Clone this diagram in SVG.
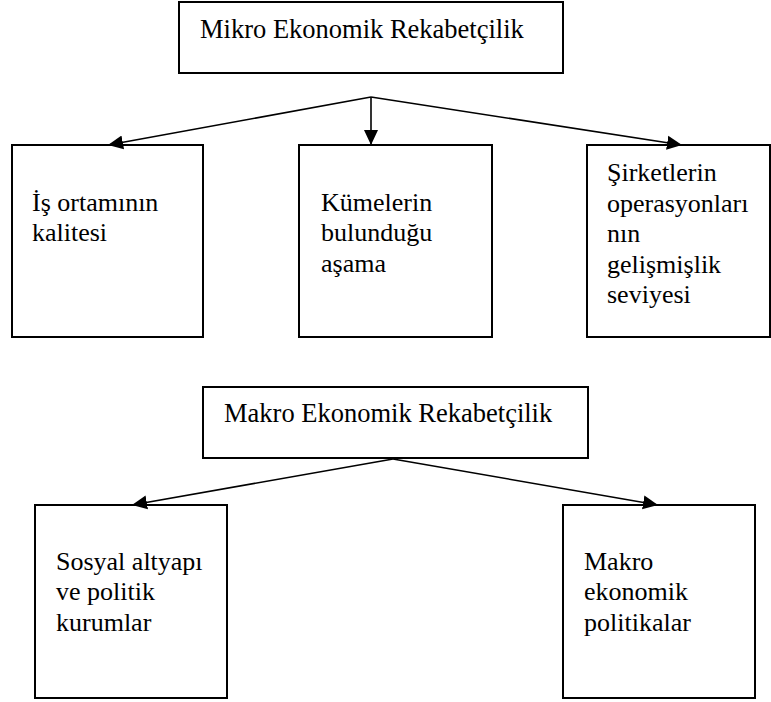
<svg xmlns="http://www.w3.org/2000/svg" width="771" height="702" viewBox="0 0 771 702">
<style>
.box{fill:#fff;stroke:#000;stroke-width:2}
text{font-family:"Liberation Serif","DejaVu Serif",serif;font-size:26px;fill:#000}
.h{font-size:26.5px}
.c{stroke:#000;stroke-width:1.6;fill:none;marker-end:url(#ah)}
</style>
<defs>
<marker id="ah" markerUnits="userSpaceOnUse" markerWidth="16" markerHeight="16" viewBox="0 0 16 16" refX="15" refY="8" orient="auto">
<path d="M0,1 L15,8 L0,15 Z" fill="#000"/>
</marker>
</defs>
<rect width="771" height="702" fill="#fff"/>
<g id="mikro">
<rect class="box" x="179" y="2" width="384" height="71"/>
<text class="h" x="200" y="38">Mikro Ekonomik Rekabetçilik</text>
</g>
<g id="is-ortami">
<rect class="box" x="12" y="145" width="191" height="192"/>
<text x="32" y="211">İş ortamının</text>
<text x="32" y="241">kalitesi</text>
</g>
<g id="kumeler">
<rect class="box" x="299" y="145" width="193" height="192"/>
<text x="321" y="211">Kümelerin</text>
<text x="321" y="241">bulunduğu</text>
<text x="321" y="272">aşama</text>
</g>
<g id="sirketler">
<rect class="box" x="587" y="145" width="183" height="192"/>
<text x="607" y="181">Şirketlerin</text>
<text x="607" y="212">operasyonları</text>
<text x="607" y="242">nın</text>
<text x="607" y="273">gelişmişlik</text>
<text x="607" y="303">seviyesi</text>
</g>
<g id="makro">
<rect class="box" x="203" y="387" width="385" height="71"/>
<text class="h" x="224" y="422">Makro Ekonomik Rekabetçilik</text>
</g>
<g id="sosyal">
<rect class="box" x="35" y="505" width="192" height="193"/>
<text x="56" y="570">Sosyal altyapı</text>
<text x="56" y="600">ve politik</text>
<text x="56" y="631">kurumlar</text>
</g>
<g id="makro-pol">
<rect class="box" x="563" y="505" width="192" height="193"/>
<text x="584" y="570">Makro</text>
<text x="584" y="600">ekonomik</text>
<text x="584" y="631">politikalar</text>
</g>
<g id="connectors">
<path class="c" d="M371,97 L108,145"/>
<path class="c" d="M371,97 L371,145"/>
<path class="c" d="M371,97 L682,145"/>
<path class="c" d="M393,459 L132,505"/>
<path class="c" d="M393,459 L658,505"/>
</g>
</svg>
